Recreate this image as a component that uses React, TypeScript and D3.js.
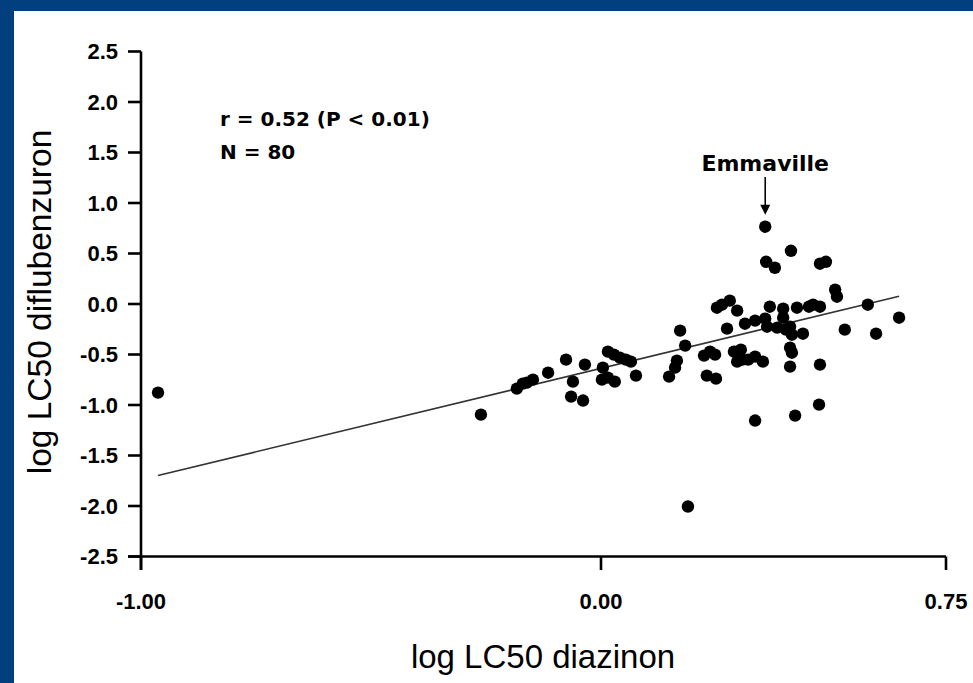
import React from "react";
import * as d3 from "d3";

// log LC50 values per population: diazinon (x) vs diflubenzuron (y)
const diazinon = [
  -0.963, -0.261, -0.183, -0.170, -0.148, -0.115, -0.076, -0.035, -0.061, -0.065,
  -0.039, 0.004, 0.002, 0.030, 0.015, 0.041, 0.065, 0.076, 0.148, 0.161,
  0.165, 0.172, 0.183, 0.224, 0.248, 0.230, 0.250, 0.189, 0.252, 0.280,
  0.296, 0.274, 0.313, 0.335, 0.357, 0.289, 0.296, 0.320, 0.335, 0.352,
  0.335, 0.357, 0.359, 0.378, 0.413, 0.476, 0.489, 0.509, 0.513, 0.367,
  0.396, 0.426, 0.452, 0.476, 0.580, 0.648, 0.396, 0.411, 0.415, 0.439,
  0.411, 0.415, 0.411, 0.530, 0.598, 0.422, 0.474, 0.476, 0.383, 0.361,
  0.015, 0.028, 0.054, 0.307, 0.304, 0.237, 0.461, -0.161, 0.402, 0.263,
];
const diflubenzuron = [
  -0.877, -1.095, -0.838, -0.788, -0.749, -0.680, -0.551, -0.600, -0.769, -0.917,
  -0.956, -0.630, -0.749, -0.769, -0.472, -0.531, -0.571, -0.709, -0.719, -0.630,
  -0.561, -0.264, -0.412, -0.511, -0.501, -0.709, -0.739, -2.005, -0.037, 0.033,
  -0.066, -0.244, -0.195, -0.165, -0.145, -0.472, -0.571, -0.551, -0.521, -0.571,
  -1.154, 0.765, 0.418, 0.359, 0.527, 0.399, 0.418, 0.141, 0.072, -0.027,
  -0.046, -0.037, -0.027, -0.027, -0.007, -0.136, -0.135, -0.225, -0.304, -0.294,
  -0.432, -0.482, -0.620, -0.254, -0.294, -1.105, -0.996, -0.600, -0.234, -0.225,
  -0.729, -0.501, -0.551, -0.551, -0.452, -0.472, -0.007, -0.778, -0.254, -0.007,
];

// Fitted regression line: y = intercept + slope * x
const slope = 1.102;
const intercept = -0.637;

const yTicks = [2.5, 2.0, 1.5, 1.0, 0.5, 0.0, -0.5, -1.0, -1.5, -2.0, -2.5];
const xTicks = [-1.0, 0.0, 0.75];

const highlightName = "Emmaville";
const highlightIndex = 41;

const statLines = ["r = 0.52 (P < 0.01)", "N = 80"];

const W = 973;
const H = 683;
const BLUE = "#013f7f";

export default function App() {
  const x = d3.scaleLinear().domain([-1, 0.75]).range([141, 946]);
  const y = d3.scaleLinear().domain([-2.5, 2.5]).range([556.5, 51.5]);

  const xMin = d3.min(diazinon) as number;
  const xMax = d3.max(diazinon) as number;
  const fitLine = d3.line<number>()
    .x((v) => x(v))
    .y((v) => y(intercept + slope * v));

  const hx = x(diazinon[highlightIndex]);
  const hy = y(diflubenzuron[highlightIndex]);

  const tickFont = "'Liberation Sans', Arial, sans-serif";
  const noteFont = "'DejaVu Sans', Verdana, sans-serif";

  return (
    <svg
      width={W}
      height={H}
      viewBox={`0 0 ${W} ${H}`}
      style={{ position: "absolute", left: 0, top: 0, display: "block" }}
    >
      <rect x={0} y={0} width={W} height={H} fill={BLUE} />
      <rect x={14} y={11} width={W - 14} height={H - 11} fill="#ffffff" />

      {/* regression line */}
      <path
        d={fitLine([xMin, xMax]) || ""}
        fill="none"
        stroke="#333"
        strokeWidth={1.6}
      />

      {/* points */}
      {diazinon.map((v, i) => (
        <circle key={i} cx={x(v)} cy={y(diflubenzuron[i])} r={6.2} fill="#000" />
      ))}

      {/* axes */}
      <line x1={x(-1)} x2={x(-1)} y1={y(2.5)} y2={570} stroke="#000" strokeWidth={2.6} />
      <line x1={128} x2={x(0.75)} y1={y(-2.5)} y2={y(-2.5)} stroke="#000" strokeWidth={2.6} />
      {yTicks.map((t) => (
        <g key={t}>
          <line x1={128} x2={x(-1)} y1={y(t)} y2={y(t)} stroke="#000" strokeWidth={2.6} />
          <text
            x={118}
            y={y(t)}
            dy="0.36em"
            textAnchor="end"
            fontFamily={tickFont}
            fontWeight="bold"
            fontSize={22}
            fill="#000"
          >
            {t.toFixed(1)}
          </text>
        </g>
      ))}
      {xTicks.map((t) => (
        <g key={t}>
          <line x1={x(t)} x2={x(t)} y1={y(-2.5)} y2={570} stroke="#000" strokeWidth={2.6} />
          <text
            x={x(t)}
            y={609}
            textAnchor="middle"
            fontFamily={tickFont}
            fontWeight="bold"
            fontSize={22}
            fill="#000"
          >
            {t.toFixed(2)}
          </text>
        </g>
      ))}

      {/* axis titles */}
      <text
        x={543}
        y={668}
        textAnchor="middle"
        fontFamily={tickFont}
        fontSize={33}
        fill="#000"
      >
        log LC50 diazinon
      </text>
      <text
        transform={`translate(51,302) rotate(-90)`}
        textAnchor="middle"
        fontFamily={tickFont}
        fontSize={33.5}
        fill="#000"
      >
        log LC50 diflubenzuron
      </text>

      {/* statistics */}
      {statLines.map((s, i) => (
        <text
          key={s}
          x={220}
          y={126 + i * 33}
          fontFamily={noteFont}
          fontWeight="bold"
          fontSize={20}
          fill="#000"
        >
          {s}
        </text>
      ))}

      {/* highlighted population */}
      <text
        x={hx}
        y={171}
        textAnchor="middle"
        fontFamily={noteFont}
        fontWeight="bold"
        fontSize={22}
        fill="#000"
      >
        {highlightName}
      </text>
      <line x1={hx} x2={hx} y1={177} y2={hy - 20} stroke="#000" strokeWidth={1.6} />
      <path
        d={`M${hx - 5},${hy - 22} L${hx + 5},${hy - 22} L${hx},${hy - 12} Z`}
        fill="#000"
      />
    </svg>
  );
}
